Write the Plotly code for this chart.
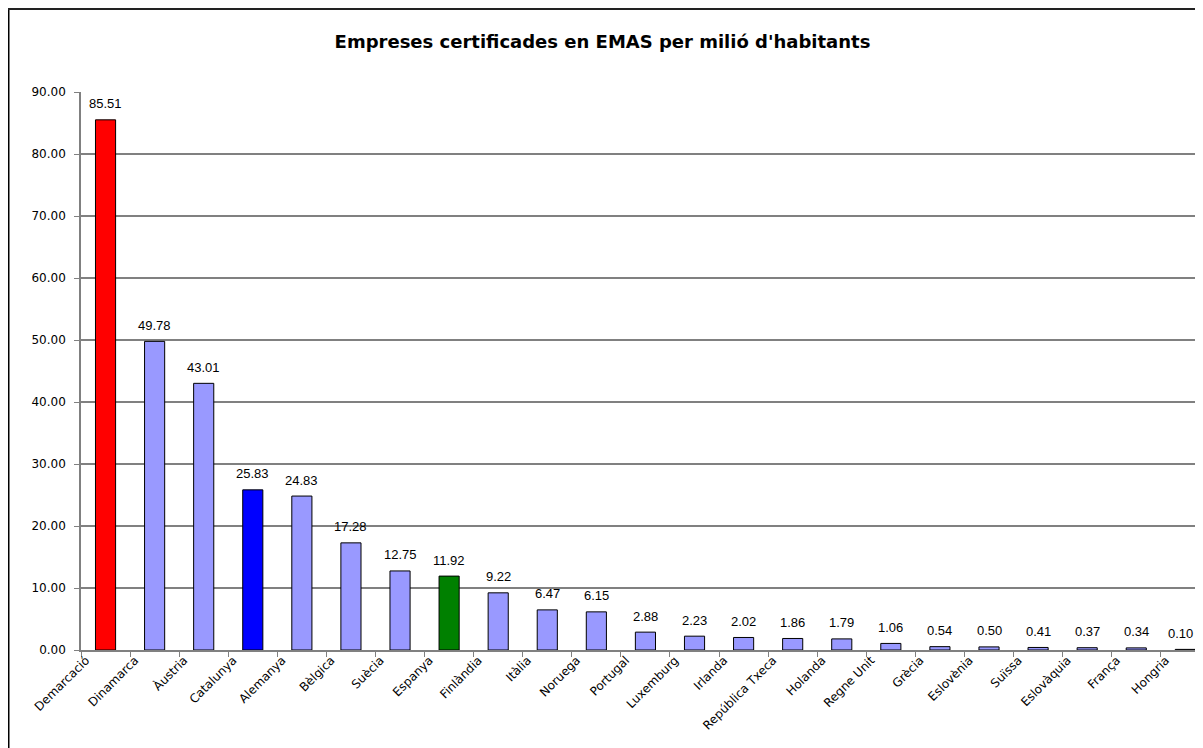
import plotly.graph_objects as go

categories = ["Demarcació", "Dinamarca", "Àustria", "Catalunya", "Alemanya", "Bèlgica",
              "Suècia", "Espanya", "Finlàndia", "Itàlia", "Noruega", "Portugal",
              "Luxemburg", "Irlanda", "República Txeca", "Holanda", "Regne Unit",
              "Grècia", "Eslovènia", "Suïssa", "Eslovàquia", "França", "Hongria"]
values = [85.51, 49.78, 43.01, 25.83, 24.83, 17.28, 12.75, 11.92, 9.22, 6.47, 6.15, 2.88,
          2.23, 2.02, 1.86, 1.79, 1.06, 0.54, 0.50, 0.41, 0.37, 0.34, 0.10]
y_ticks = [0, 10, 20, 30, 40, 50, 60, 70, 80, 90]
title_text = "Empreses certificades en EMAS per milió d'habitants"

special = {"Demarcació": "#FF0000", "Catalunya": "#0000FF", "Espanya": "#008000"}
colors = [special.get(c, "#9999FF") for c in categories]

W, H = 1195, 740
L, R, T, B = 73, 0, 84, 98
pw, ph = W - L - R, H - T - B
x_hi = 22.36
label_shift = 0.4

fig = go.Figure()
fig.add_trace(go.Bar(
    x=categories, y=values, width=0.41,
    marker=dict(color=colors, line=dict(color="black", width=1)),
    hoverinfo="x+y",
))
# invisible carrier trace for the (shifted) tick-label axis
idx = list(range(len(categories)))
fig.add_trace(go.Scatter(
    x=idx, y=values, xaxis="x2", mode="markers",
    marker=dict(opacity=0), hoverinfo="skip", showlegend=False,
))

n = len(categories)
for i, (c, v) in enumerate(zip(categories, values)):
    fig.add_annotation(x=c, y=v, text=f"{v:.2f}", showarrow=False,
                       yanchor="middle", yshift=16,
                       xshift=(-5 if i == n - 1 else 0),
                       font=dict(family="Liberation Sans", size=13, color="black"))

def px_x(p):
    return (p - L) / pw

def px_y(p):
    return (H - B - p) / ph

# chart-area frame (left and top edges)
fig.add_shape(type="line", xref="paper", yref="paper",
              x0=px_x(0.5), x1=px_x(0.5), y0=px_y(1), y1=px_y(760),
              line=dict(color="black", width=2))
fig.add_shape(type="line", xref="paper", yref="paper",
              x0=px_x(0), x1=px_x(1210), y0=px_y(1), y1=px_y(1),
              line=dict(color="#222222", width=2))

fig.update_layout(
    width=W, height=H,
    margin=dict(l=L, r=R, t=T, b=B, autoexpand=False),
    paper_bgcolor="white", plot_bgcolor="white",
    showlegend=False,
    title=dict(text=title_text, x=594.5 / W, xref="container", xanchor="center",
               y=1 - 34 / H, yref="container", yanchor="middle",
               font=dict(family="DejaVu Sans", size=18, color="black", weight="bold")),
    xaxis=dict(
        type="category", range=[-0.5, x_hi],
        tickson="boundaries", ticks="outside", ticklen=5, tickcolor="#808080",
        showline=True, linecolor="#808080", linewidth=1.5,
        showgrid=False, showticklabels=False,
    ),
    xaxis2=dict(
        overlaying="x", anchor="y", side="bottom",
        range=[-0.5 + label_shift, x_hi + label_shift],
        tickvals=idx, ticktext=categories, tickangle=-45,
        ticks="", showline=False, showgrid=False, zeroline=False,
        tickfont=dict(family="DejaVu Sans", size=12, color="black"),
    ),
    yaxis=dict(
        range=[0, 90], tickvals=y_ticks, tickformat=".2f",
        ticks="outside", ticklen=5, tickcolor="#808080",
        showline=True, linecolor="#808080", linewidth=1.5,
        showgrid=True, gridcolor="#808080", gridwidth=1.5,
        zeroline=False, ticklabelstandoff=6,
        tickfont=dict(family="DejaVu Sans", size=12, color="black"),
    ),
)

fig.write_html("out.html")
